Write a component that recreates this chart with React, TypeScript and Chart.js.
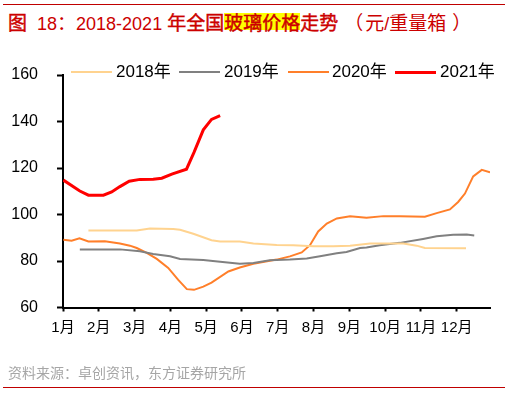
import React, { useEffect, useRef } from "react";
import { Chart, registerables } from "chart.js";

Chart.register(...registerables);

const monthLabels = ["1月", "2月", "3月", "4月", "5月", "6月", "7月", "8月", "9月", "10月", "11月", "12月"];
const yTicks = [60, 80, 100, 120, 140, 160];

// x positions in months since Jan 1 (weekly observations)
const x2018 = [0.71, 1.4, 2.06, 2.43, 3.08, 3.27, 3.64, 4.15, 4.39, 4.94, 5.32, 5.97, 6.43, 6.99, 7.55, 8.02, 8.58, 9.51, 9.88, 10.11, 11.26];
const v2018 = [93.1, 93.1, 93.1, 94.0, 93.8, 93.4, 91.7, 88.9, 88.4, 88.4, 87.5, 86.9, 86.8, 86.3, 86.3, 86.6, 87.5, 87.5, 86.6, 85.6, 85.5];

const x2019 = [0.47, 1.59, 2.15, 2.52, 2.99, 3.27, 3.92, 4.39, 4.94, 5.32, 5.78, 6.34, 6.81, 7.18, 7.65, 7.92, 8.3, 8.48, 8.85, 9.41, 10.06, 10.44, 10.9, 11.28, 11.49];
const v2019 = [85.0, 85.0, 84.2, 83.0, 82.0, 80.9, 80.4, 79.7, 78.8, 79.1, 80.3, 80.6, 81.1, 82.0, 83.3, 83.9, 85.6, 85.8, 86.8, 87.8, 89.5, 90.6, 91.3, 91.4, 91.0];

const x2020 = [0.01, 0.24, 0.46, 0.71, 1.17, 1.59, 1.87, 2.06, 2.34, 2.62, 2.94, 3.22, 3.46, 3.66, 3.92, 4.15, 4.62, 4.94, 5.32, 5.97, 6.34, 6.67, 6.9, 7.13, 7.37, 7.65, 8.02, 8.48, 8.95, 9.41, 10.11, 10.44, 10.81, 11.04, 11.23, 11.46, 11.7, 11.93];
const v2020 = [89.1, 88.7, 89.8, 88.4, 88.5, 87.5, 86.6, 85.6, 83.5, 80.9, 77.0, 71.9, 67.9, 67.6, 69.0, 70.7, 75.5, 77.2, 78.8, 80.6, 82.0, 83.7, 86.8, 92.7, 96.1, 98.3, 99.2, 98.6, 99.3, 99.2, 99.0, 100.6, 102.2, 105.4, 109.0, 116.4, 119.2, 118.1];

const x2021 = [0.01, 0.47, 0.71, 1.13, 1.36, 1.59, 1.85, 2.15, 2.52, 2.76, 3.04, 3.45, 3.66, 3.92, 4.15, 4.39];
const v2021 = [114.8, 110.1, 108.3, 108.3, 109.7, 112.0, 114.3, 115.1, 115.2, 115.6, 117.4, 119.5, 126.7, 136.4, 140.9, 142.5];

const seriesNames = ["2018年", "2019年", "2020年", "2021年"];
const seriesColors = ["#FFD38F", "#808080", "#FF7F2A", "#FF0000"];
const seriesWidths = [2, 2, 2, 3];

const toPoints = (xs: number[], vs: number[]) => xs.map((x, i) => ({ x, y: vs[i] }));

const FONT = "'Liberation Sans', 'Noto Sans CJK SC', sans-serif";
const CJK = "'Noto Sans CJK SC', sans-serif";
const TITLE_RED = "#CC0000";

export default function App() {
  const ref = useRef<HTMLCanvasElement | null>(null);

  useEffect(() => {
    document.body.style.margin = "0";
    const canvas = ref.current;
    if (!canvas) return;
    const xsAll = [x2018, x2019, x2020, x2021];
    const vsAll = [v2018, v2019, v2020, v2021];
    const chart = new Chart(canvas, {
      type: "line",
      data: {
        datasets: seriesNames.map((name, i) => ({
          label: name,
          data: toPoints(xsAll[i], vsAll[i]),
          borderColor: seriesColors[i],
          backgroundColor: seriesColors[i],
          borderWidth: seriesWidths[i],
          pointRadius: 0,
          tension: 0,
          fill: false,
        })),
      },
      options: {
        responsive: false,
        animation: false,
        layout: { padding: { left: 8, right: 23, top: 75, bottom: 50.5 } },
        plugins: { legend: { display: false }, tooltip: { enabled: false }, title: { display: false } },
        scales: {
          x: {
            type: "linear",
            min: 0,
            max: 11.93,
            afterBuildTicks: (scale: any) => {
              scale.ticks = monthLabels.map((_, i) => ({ value: i }));
            },
            afterFit: (scale: any) => {
              scale.height = 35;
            },
            ticks: {
              autoSkip: false,
              maxRotation: 0,
              padding: 7,
              color: "#000",
              font: { size: 15, family: FONT },
              callback: (v: any) => monthLabels[Math.round(Number(v))] ?? "",
            },
            grid: { drawOnChartArea: false, drawTicks: true, tickLength: 4, color: "#000", tickWidth: 2 },
            border: { color: "#000", width: 2 },
          },
          y: {
            type: "linear",
            min: 60,
            max: 160,
            afterBuildTicks: (scale: any) => {
              scale.ticks = yTicks.map((v) => ({ value: v }));
            },
            afterFit: (scale: any) => {
              scale.width = 55;
            },
            ticks: {
              padding: 19,
              color: "#000",
              font: { size: 16, family: FONT },
            },
            grid: { drawOnChartArea: false, drawTicks: true, tickLength: 6, color: "#000", tickWidth: 2 },
            border: { color: "#000", width: 2 },
          },
        },
      },
    });
    return () => chart.destroy();
  }, []);

  const legendSamples = [71, 179, 288, 395];
  const legendTexts = [116, 224, 332, 440];

  const cjk: React.CSSProperties = { fontFamily: CJK, fontSize: 19 };
  const cjkBold: React.CSSProperties = { ...cjk, WebkitTextStroke: `0.45px ${TITLE_RED}` } as React.CSSProperties;

  return (
    <div style={{ position: "relative", width: 513, height: 393, background: "#fff", overflow: "hidden" }}>
      <div style={{ position: "absolute", left: 3, top: 4, width: 502, height: 1, background: "#C00000" }} />
      <div
        style={{
          position: "absolute",
          left: 8,
          top: 13,
          whiteSpace: "pre",
          fontFamily: FONT,
          fontSize: 18,
          lineHeight: "17px",
          color: TITLE_RED,
        }}
      >
        <span style={cjkBold}>图</span>
        {"  18"}
        <span style={cjk}>：</span>
        {"2018-2021 "}
        <span style={cjkBold}>年全国</span>
        <span style={{ ...cjkBold, display: "inline-block", background: "#FFFF00", lineHeight: "17px", height: 17 }}>玻璃价格</span>
        <span style={cjkBold}>走势</span>
        <span style={{ ...cjk, marginLeft: 6, marginRight: 2 }}>（</span>
        <span style={cjk}>元</span>
        {"/"}
        <span style={cjk}>重量箱</span>
        <span style={{ ...cjk, marginLeft: 6 }}>）</span>
      </div>
      <canvas ref={ref} width={513} height={393} style={{ position: "absolute", left: 0, top: 0, width: 513, height: 393 }} />
      {seriesNames.map((name, i) => (
        <React.Fragment key={name}>
          <div
            style={{
              position: "absolute",
              left: legendSamples[i],
              top: 72 - seriesWidths[i] / 2,
              width: 41,
              height: seriesWidths[i],
              background: seriesColors[i],
            }}
          />
          <div
            style={{
              position: "absolute",
              left: legendTexts[i],
              top: 62,
              lineHeight: "20px",
              fontSize: 17,
              fontFamily: FONT,
              color: "#000",
              whiteSpace: "pre",
            }}
          >
            {name}
          </div>
        </React.Fragment>
      ))}
      <div
        style={{
          position: "absolute",
          left: 8,
          top: 363,
          lineHeight: "20px",
          fontSize: 14,
          fontFamily: FONT,
          color: "#A6A6A6",
          whiteSpace: "pre",
        }}
      >
        资料来源：卓创资讯，东方证券研究所
      </div>
      <div style={{ position: "absolute", left: 3, top: 387, width: 502, height: 1, background: "#C00000" }} />
    </div>
  );
}
